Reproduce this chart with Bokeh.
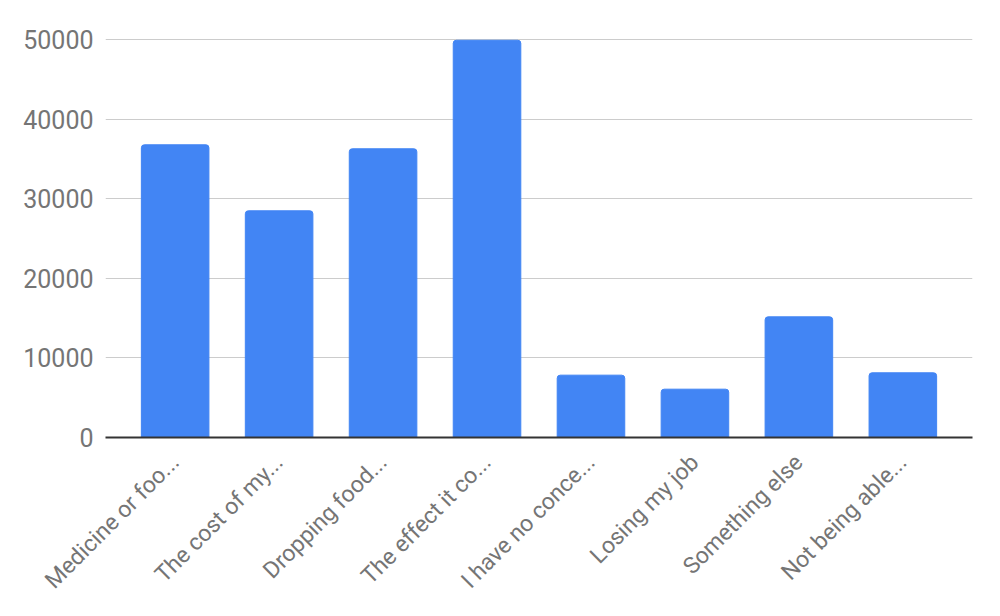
import math
from bokeh.plotting import figure
from bokeh.models import FactorRange, Range1d, SingleIntervalTicker, NumeralTickFormatter
from bokeh.embed import file_html
from bokeh.resources import INLINE

categories = ["Medicine or foo...", "The cost of my...", "Dropping food...", "The effect it co...",
              "I have no conce...", "Losing my job", "Something else", "Not being able..."]
values = [36770, 28480, 36270, 49900, 7830, 6070, 15160, 8130]

p = figure(width=984, height=614, output_backend="svg", toolbar_location=None,
           x_range=FactorRange(factors=categories, range_padding=0.17, range_padding_units="absolute"),
           y_range=Range1d(0, 50500),
           min_border_left=105, min_border_right=12, min_border_top=35, min_border_bottom=177)

p.vbar(x=categories, top=values, width=0.65, color="#4285F4", border_radius=(3, 3, 0, 0))

p.outline_line_color = None
p.xgrid.grid_line_color = None
p.ygrid.grid_line_color = "#cccccc"
p.ygrid.grid_line_width = 1

p.yaxis.ticker = SingleIntervalTicker(interval=10000)
p.yaxis.formatter = NumeralTickFormatter(format="0")
p.yaxis.axis_line_color = None
p.yaxis.major_tick_line_color = None
p.yaxis.minor_tick_line_color = None
p.yaxis.major_label_text_font = "Roboto"
p.yaxis.major_label_text_font_size = "25px"
p.yaxis.major_label_text_color = "#757575"
p.yaxis.major_label_standoff = 6

p.xaxis.axis_line_color = "#333333"
p.xaxis.axis_line_width = 2
p.xaxis.major_tick_line_color = None
p.xaxis.minor_tick_line_color = None
p.xaxis.major_label_orientation = math.pi / 4
p.xaxis.major_label_text_font = "Roboto"
p.xaxis.major_label_text_font_size = "23px"
p.xaxis.major_label_text_color = "#757575"
p.xaxis.major_label_standoff = 15

open("out.html", "w").write(file_html(p, INLINE))
